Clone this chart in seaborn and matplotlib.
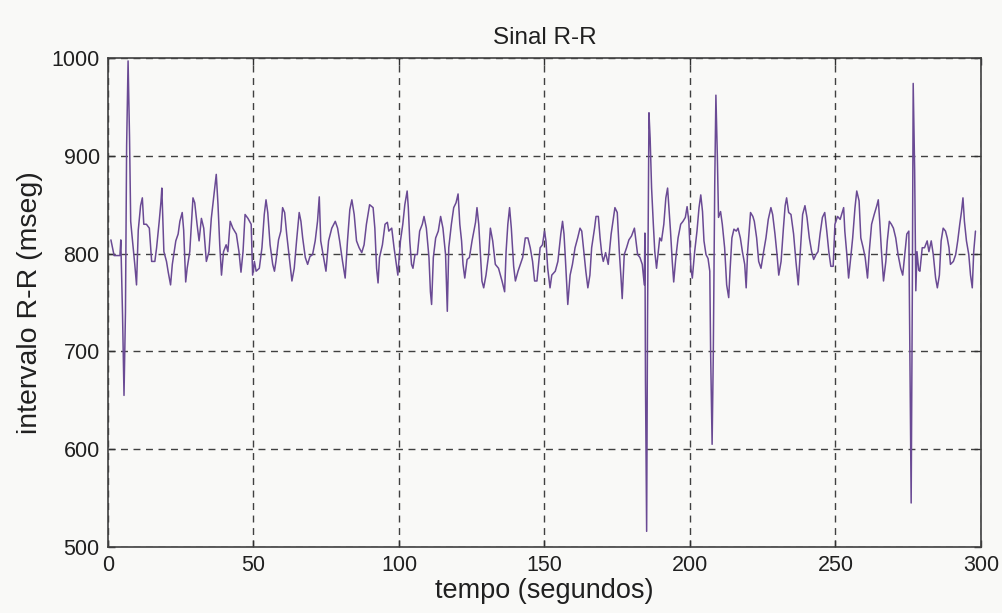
import matplotlib
matplotlib.use("Agg")
import matplotlib.pyplot as plt
import seaborn as sns
import numpy as np

# ---- data (time in s, R-R interval in ms) ----
time_s = [
    1.0, 2.1, 4.1, 4.4, 5.0, 5.5, 6.0, 6.4, 6.9, 7.4, 7.8, 8.2, 9.2, 9.8, 10.4, 11.2, 11.8,
    12.3, 13.2, 14.2, 15.0, 16.1, 16.7, 17.6, 18.2, 18.5, 19.2, 20.1, 20.7, 21.5, 22.1,
    23.3, 24.1, 24.7, 25.5, 26.0, 26.7, 27.2, 28.1, 29.2, 29.8, 30.6, 31.3, 32.1, 32.9,
    33.8, 34.7, 35.5, 36.3, 37.2, 37.8, 38.4, 39.0, 39.7, 40.6, 41.2, 42.0, 42.9, 44.1,
    45.0, 45.7, 46.4, 47.1, 48.1, 49.2,
    49.7, 50.3, 50.9, 52.0, 52.9, 53.7, 54.3, 54.9, 55.7, 56.6, 57.2, 57.7, 58.6, 59.4,
    60.0, 60.7, 61.4, 62.3, 63.2, 64.0, 64.8, 65.7, 66.3, 66.9, 67.8, 68.6, 69.4, 70.3,
    71.2, 72.0, 72.6, 73.1, 73.9, 74.9, 75.8, 76.9, 78.1, 78.9, 79.6, 80.6, 81.5, 82.3,
    83.1, 83.8, 84.6, 85.4, 86.3, 87.2, 88.0, 88.8, 89.9, 91.1, 91.7, 92.3, 92.8, 93.3,
    94.3, 95.2, 96.0, 96.5, 97.5, 98.3, 99.1, 99.6, 100.5, 101.3, 102.0, 102.8,
    103.2, 103.7, 104.3, 104.8, 105.5, 106.3, 107.1, 108.0, 108.6, 109.4, 110.3, 110.8,
    111.2, 111.8, 112.6, 113.5, 114.3, 115.1, 116.0, 116.6, 117.1, 118.0, 118.8, 119.6,
    120.3, 120.9, 121.5, 122.0, 122.6, 123.4, 124.2, 125.1, 126.3, 126.8, 127.4, 128.0,
    128.5, 129.1, 129.9, 130.8, 131.4, 132.2, 133.1, 134.2, 135.4, 136.3, 136.8, 137.4,
    138.0, 138.6, 139.4, 140.0, 140.9, 141.7, 142.5, 143.4, 144.3, 145.1, 145.9, 146.6,
    147.4, 148.5, 149.3, 150.0, 150.5, 151.1, 151.9, 152.5, 153.7, 154.6,
    155.6, 156.2, 156.7, 157.1, 157.7, 158.0, 158.8, 159.6, 160.5, 161.4, 162.2, 162.8,
    163.5, 164.2, 164.9, 165.6, 166.2, 167.2, 167.7, 168.5, 169.1, 169.7, 170.2, 171.0,
    171.9, 172.9, 173.7, 174.2, 175.0, 175.7, 176.3, 176.7, 177.4, 178.2, 179.0, 179.9,
    180.9, 181.3, 182.0, 182.8, 183.6, 184.3,
    184.5, 184.7, 185.1, 185.4, 185.9, 186.3, 186.8, 187.4, 187.9, 188.5, 189.1, 189.6,
    190.2, 191.0, 191.7, 192.3, 192.7, 193.3, 193.9, 194.4, 195.1, 195.9, 196.8, 197.6,
    198.4, 199.0, 199.6, 200.3, 200.8, 201.6, 202.4, 203.1, 203.7, 204.3, 204.8, 205.5,
    206.2, 206.8, 207.1, 207.6, 208.0, 208.5, 208.9, 209.4, 209.8, 210.5, 211.1, 211.9,
    212.6, 213.3, 213.8, 214.4, 215.1, 215.9, 216.5, 217.3, 218.0, 218.8, 219.3,
    219.8, 220.8, 221.6, 222.1, 222.9, 223.6, 224.4, 225.3, 226.1, 226.9, 227.8, 228.4,
    229.2, 229.9, 230.5, 231.3, 232.1, 232.7, 233.2, 233.9, 234.7, 235.6, 236.4, 237.2,
    237.9, 238.7, 239.5, 240.2, 241.0, 241.8, 242.5, 243.3, 244.0, 244.7, 245.5, 246.3,
    247.0, 247.7, 248.4, 249.2, 249.8, 250.7, 251.6, 252.4, 252.8, 253.2,
    253.9, 254.5, 255.1, 255.9, 256.7, 257.3, 258.1, 258.7, 259.5, 260.2, 261.0, 261.6,
    262.4, 263.3, 264.2, 264.7, 265.2, 265.8, 266.5, 267.3, 267.8, 268.5, 269.2, 269.9,
    270.7, 271.5, 272.4, 273.1, 273.8, 274.5, 275.2, 275.6, 276.0, 276.4, 276.7, 277.2,
    277.6, 278.0, 278.6, 279.0, 279.8, 280.6, 281.5, 282.1, 282.9, 283.6, 284.4, 285.0,
    285.7, 286.3, 287.0, 287.8, 288.4, 289.0, 289.5, 290.5, 291.3, 292.0, 292.7, 293.3,
    293.8, 294.3, 295.0, 295.8, 296.4, 297.0, 297.5, 298.1,
]
rr_ms = [
    814, 798, 798, 814, 737, 655, 740, 910, 997, 919, 833, 820, 789, 768, 824, 849, 857,
    830, 830, 826, 792, 792, 806, 833, 853, 867, 802, 792, 781, 768, 789,
    813, 820, 833, 842, 824, 771, 785, 802, 857, 852, 830, 813, 836, 826,
    792, 802, 836, 857, 881, 850, 809, 778, 802, 809, 802, 833, 826, 820,
    802, 781, 802, 840, 836, 830,
    778, 792, 782, 785, 806, 840, 855, 842, 809, 789, 782, 792, 814, 823,
    847, 842, 820, 796, 772, 785, 813, 842, 833, 816, 796, 789, 797, 799,
    813, 833, 858, 813, 799, 782, 813, 826, 833, 826, 813, 792, 775, 813,
    845, 855, 840, 813, 806, 801, 809, 830, 850, 847, 826, 785, 770, 796,
    809, 830, 832, 823, 826, 806, 789, 778, 813, 830, 850, 864,
    847, 813, 789, 785, 799, 799, 823, 830, 838, 826, 796, 761,
    748, 796, 816, 823, 838, 826, 799, 741, 806, 830, 847, 852,
    861, 830, 813, 789, 775, 794, 796, 813, 832, 847, 830, 799,
    772, 765, 778, 799, 826, 813, 789, 785, 772, 761, 802, 830,
    847, 826, 787, 772, 782, 789, 796, 816, 816, 806, 792, 772,
    772, 806, 809, 823, 813, 785, 765, 778, 782, 792,
    820, 833, 820, 799, 765, 748, 778, 789, 806, 816, 826, 823,
    802, 782, 765, 778, 806, 826, 838, 838, 816, 799, 792, 801,
    789, 820, 837, 847, 842, 802, 775, 754, 799, 806, 814, 818,
    826, 816, 799, 796, 789, 768,
    821, 669, 516, 730, 944, 918, 867, 830, 802, 785, 802, 816,
    813, 830, 857, 867, 850, 823, 792, 771, 795, 816, 830, 833,
    837, 848, 833, 785, 775, 802, 823, 847, 860, 843, 813, 799,
    795, 782, 696, 605, 696, 871, 962, 899, 837, 843, 830, 806,
    768, 755, 785, 816, 825, 823, 826, 816, 802, 789, 765,
    802, 842, 838, 833, 816, 792, 785, 802, 816, 835, 847, 840,
    820, 799, 778, 792, 826, 849, 857, 842, 840, 820, 792, 768,
    802, 840, 849, 837, 816, 802, 794, 799, 802, 820, 837, 842,
    823, 802, 787, 787, 830, 838, 835, 843, 847, 823,
    799, 775, 792, 816, 847, 864, 854, 816, 806, 796, 775, 802,
    830, 840, 849, 855, 833, 802, 772, 792, 813, 833, 830, 826,
    816, 799, 785, 778, 799, 820, 823, 686, 545, 760, 974, 885,
    762, 802, 783, 782, 806, 806, 813, 802, 813, 799, 775, 765,
    778, 813, 826, 823, 816, 806, 789, 792, 799, 813, 830, 843,
    857, 833, 813, 799, 778, 765, 802, 823,
]

x_ticks = [0, 50, 100, 150, 200, 250, 300]
y_ticks = [500, 600, 700, 800, 900, 1000]

sns.set_theme(style="white")
plt.rcParams["font.family"] = ["Liberation Sans", "DejaVu Sans"]

bg = "#f9f9f7"
fig = plt.figure(figsize=(10.03, 6.13), dpi=100, facecolor=bg)
ax = fig.add_axes([108 / 1003, 1 - 547 / 613, (981 - 108) / 1003, (547 - 58) / 613])
ax.set_facecolor(bg)

sns.lineplot(x=np.array(time_s), y=np.array(rr_ms), ax=ax, sort=False,
             estimator=None, color="#6a4a94", linewidth=1.1)

ax.set_xlim(0, 300)
ax.set_ylim(500, 1000)
ax.set_xticks(x_ticks)
ax.set_yticks(y_ticks)
ax.set_xticklabels([str(v) for v in x_ticks], fontsize=15.5, color="#202020")
ax.set_yticklabels([str(v) for v in y_ticks], fontsize=15.5, color="#202020")
ax.tick_params(direction="in", length=5, width=1, color="#303030",
               top=True, right=True, bottom=True, left=True, pad=6)

ax.grid(True, color="#202020", linestyle=(0, (5, 4)), linewidth=1.0, alpha=0.85)
for s in ax.spines.values():
    s.set_visible(True)
    s.set_color("#404040")
    s.set_linewidth(1.2)

ax.set_title("Sinal R-R", fontsize=17.5, color="#202020", pad=10)
ax.set_xlabel("tempo (segundos)", fontsize=19.5, color="#202020", labelpad=1)
ax.set_ylabel("intervalo R-R (mseg)", fontsize=20.5, color="#202020", labelpad=6)

fig.savefig("out.png", dpi=100, facecolor=bg)
